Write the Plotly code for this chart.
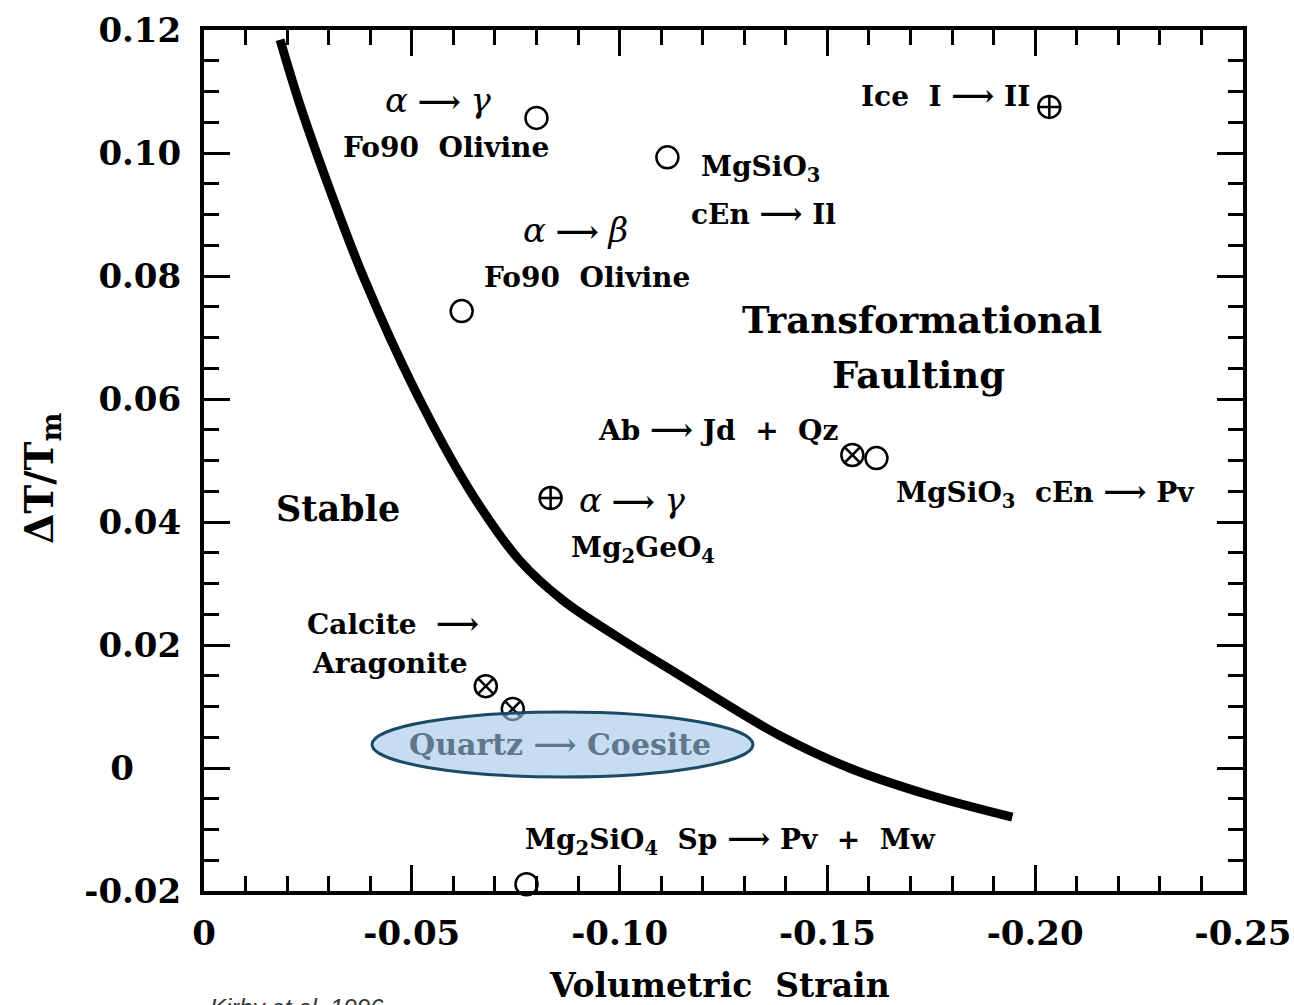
import plotly.graph_objects as go

# ---- data ----
curve_x = [-0.0183, -0.0231, -0.0303, -0.0387, -0.0507, -0.0639, -0.0759, -0.0863,
           -0.1000, -0.1144, -0.1288, -0.1385, -0.1553, -0.1745, -0.1945]
curve_y = [0.1184, 0.1078, 0.0940, 0.0793, 0.0615, 0.0452, 0.0338, 0.0273,
           0.0211, 0.0151, 0.0091, 0.0053, 0.0000, -0.0044, -0.0080]

open_x = [-0.0800, -0.1115, -0.0620, -0.1618, -0.0776]
open_y = [0.1057, 0.0993, 0.0743, 0.0504, -0.0189]
plus_x = [-0.2034, -0.0834]
plus_y = [0.1075, 0.0439]
cross_x = [-0.1560, -0.0678, -0.0743]
cross_y = [0.0509, 0.0133, 0.0096]

x_ticks = [0, -0.05, -0.10, -0.15, -0.20, -0.25]
x_ticktext = ["0", "-0.05", "-0.10", "-0.15", "-0.20", "-0.25"]
y_ticks = [0.12, 0.10, 0.08, 0.06, 0.04, 0.02, 0, -0.02]
y_ticktext = ["0.12", "0.10", "0.08", "0.06", "0.04", "0.02", "0\u2007\u2007", "-0.02"]

SERIF = "DejaVu Serif"
L, R, T, B = 204, 1243, 30, 891

def pxx(p):
    return (p - L) / (R - L)

def pxy(p):
    return (B - p) / (B - T)

fig = go.Figure()
fig.add_trace(go.Scatter(x=curve_x, y=curve_y, mode="lines",
                         line=dict(color="black", width=9, shape="spline", smoothing=1.0),
                         hoverinfo="skip", showlegend=False))
mk = dict(size=22, color="black", line=dict(color="black", width=2.5))
fig.add_trace(go.Scatter(x=open_x, y=open_y, mode="markers", showlegend=False, cliponaxis=False,
                         marker=dict(symbol="circle-open", **mk)))
fig.add_trace(go.Scatter(x=plus_x, y=plus_y, mode="markers", showlegend=False, cliponaxis=False,
                         marker=dict(symbol="circle-cross-open", **mk)))
fig.add_trace(go.Scatter(x=cross_x, y=cross_y, mode="markers", showlegend=False, cliponaxis=False,
                         marker=dict(symbol="circle-x-open", **mk)))

G = lambda s: "<span style='font-weight:normal;font-size:34px'><i>%s</i></span>" % s
A = "<span style='font-size:30px'>⟶</span>"
labels = [
    (G("α") + " " + A + " " + G("γ"), 438, 100, 28),
    ("Fo90  Olivine", 446, 147, 28),
    ("MgSiO<sub>3</sub>", 760, 168, 28),
    ("cEn " + A + " Il", 763, 213, 28),
    (G("α") + " " + A + " " + G("β"), 575, 230, 28),
    ("Fo90  Olivine", 587, 277, 28),
    ("Ice  I " + A + " II", 945, 95, 28),
    ("Transformational", 922, 320, 37),
    ("Faulting", 918, 375, 37),
    ("Ab " + A + " Jd  +  Qz", 718, 430, 28),
    ("MgSiO<sub>3</sub>  cEn " + A + " Pv", 1045, 493, 28),
    ("Stable", 338, 508, 35),
    (G("α") + " " + A + " " + G("γ"), 632, 500, 28),
    ("Mg<sub>2</sub>GeO<sub>4</sub>", 643, 550, 28),
    ("Calcite  " + A, 393, 623, 28),
    ("Aragonite", 390, 663, 28),
    ("Mg<sub>2</sub>SiO<sub>4</sub>  Sp " + A + " Pv  +  Mw", 730, 840, 28),
]
ann = []
for txt, x, y, s in labels:
    ann.append(dict(text=txt, x=pxx(x), y=pxy(y), xref="paper", yref="paper",
                    showarrow=False, xanchor="center", yanchor="middle",
                    font=dict(family=SERIF, size=s, color="black", weight="bold")))
ann.append(dict(text="Quartz " + A + " Coesite", x=pxx(560), y=pxy(744), xref="paper", yref="paper",
                showarrow=False, xanchor="center", yanchor="middle",
                font=dict(family=SERIF, size=30, color="#60768b", weight="bold")))
ann.append(dict(text="Volumetric  Strain", x=pxx(719), y=pxy(985), xref="paper", yref="paper",
                showarrow=False, xanchor="center", yanchor="middle",
                font=dict(family=SERIF, size=33, color="black", weight="bold")))
ann.append(dict(text="ΔT/T<sub>m</sub>", x=pxx(42), y=pxy(478), xref="paper", yref="paper",
                showarrow=False, xanchor="center", yanchor="middle", textangle=-90,
                font=dict(family=SERIF, size=39, color="black", weight="bold")))
ann.append(dict(text="<i>Kirby et al. 1996</i>", x=pxx(208), y=pxy(992), xref="paper", yref="paper",
                showarrow=False, xanchor="left", yanchor="top",
                font=dict(family="Liberation Sans", size=24, color="#333333")))

fig.add_shape(type="circle", xref="paper", yref="paper",
              x0=pxx(372), x1=pxx(753), y0=pxy(777), y1=pxy(712),
              fillcolor="rgba(160,196,232,0.6)", line=dict(color="#1a4a66", width=3),
              layer="above")

axis_common = dict(showline=True, linecolor="black", linewidth=4, mirror="allticks",
                   ticks="inside", tickcolor="black", tickwidth=3, ticklen=26,
                   showgrid=False, zeroline=False, automargin=False,
                   tickfont=dict(family=SERIF, size=34, color="black", weight="bold"))
fig.update_xaxes(range=[0, -0.25], tickvals=x_ticks, ticktext=x_ticktext,
                 minor=dict(dtick=0.01, ticks="inside", ticklen=15, tickwidth=3, tickcolor="black"),
                 ticklabelstandoff=9,
                 **axis_common)
fig.update_yaxes(range=[-0.02, 0.12], tickvals=y_ticks, ticktext=y_ticktext,
                 minor=dict(dtick=0.005, ticks="inside", ticklen=15, tickwidth=3, tickcolor="black"),
                 ticklabelstandoff=12,
                 **axis_common)
fig.update_layout(width=1294, height=1005, margin=dict(l=L, r=1294 - R, t=T, b=1005 - B),
                  plot_bgcolor="white", paper_bgcolor="white", annotations=ann)
fig.write_html("out.html")
